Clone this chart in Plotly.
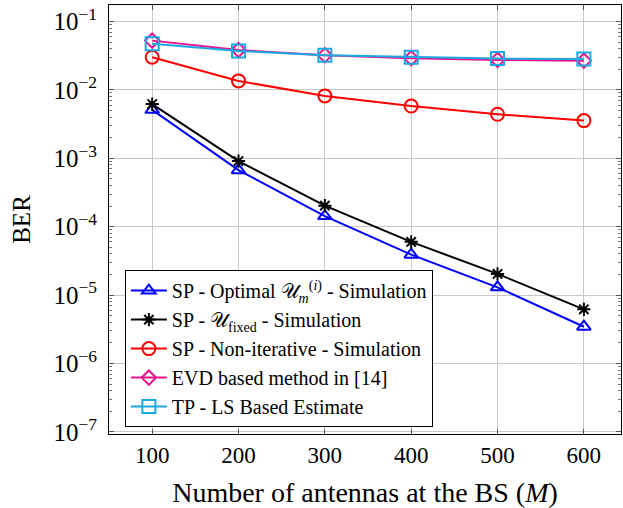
import plotly.graph_objects as go

M = [100, 200, 300, 400, 500, 600]
ber_optimal = [5.1e-3, 6.7e-4, 1.43e-4, 3.9e-5, 1.3e-5, 3.45e-6]
ber_fixed = [6.2e-3, 9.1e-4, 2.03e-4, 6.0e-5, 2.04e-5, 6.2e-6]
ber_noniter = [3.0e-2, 1.35e-2, 8.15e-3, 5.8e-3, 4.4e-3, 3.55e-3]
ber_evd = [5.24e-2, 3.83e-2, 3.2e-2, 2.9e-2, 2.74e-2, 2.67e-2]
ber_tp = [4.7e-2, 3.7e-2, 3.2e-2, 3.0e-2, 2.86e-2, 2.83e-2]

names = [
    "SP - Optimal 𝒰<sub><i>m</i></sub><sup>(<i>i</i>)</sup> - Simulation",
    "SP - 𝒰<sub>fixed</sub> - Simulation",
    "SP - Non-iterative - Simulation",
    "EVD based method in [14]",
    "TP - LS Based Estimate",
]
series = [ber_optimal, ber_fixed, ber_noniter, ber_evd, ber_tp]
colors = ["#0000FF", "#000000", "#FF0000", "#E8138C", "#1CA8E3"]
symbols = ["triangle-up-open", "asterisk-open", "circle-open", "diamond-open", "square-open"]
sizes = [12, 11, 13, 11, 13]

FONT = "Liberation Serif"

fig = go.Figure()
for i, (nm, ys, c, s, sz) in enumerate(zip(names, series, colors, symbols, sizes)):
    fig.add_trace(go.Scatter(
        x=M, y=ys, mode="lines+markers", name=nm,
        legendgroup=f"g{i}",
        line=dict(color=c, width=2),
        marker=dict(symbol=s, size=sz, color=c, line=dict(color=c, width=2)),
    ))

decades = [10.0 ** k for k in range(-7, 0)]
decade_labels = [f"10<sup>−{abs(k)}</sup>" for k in range(-7, 0)]
minor_vals = [m * 10.0 ** k for k in range(-7, 0) for m in range(2, 10)]

fig.update_layout(
    width=623, height=508,
    margin=dict(l=109, r=2, t=5, b=74),
    paper_bgcolor="white", plot_bgcolor="white",
    font=dict(family=FONT, color="black"),
    showlegend=True,
    legend=dict(
        x=0.031, y=0.382, xanchor="left", yanchor="top",
        bordercolor="black", borderwidth=1, bgcolor="white",
        font=dict(family=FONT, size=20, color="black"),
        traceorder="grouped", tracegroupgap=0, itemwidth=36,
    ),
)
fig.update_xaxes(
    range=[50, 643], automargin=False,
    tickvals=M, ticktext=[str(v) for v in M],
    tickfont=dict(family=FONT, size=23),
    title=dict(text="Number of antennas at the BS (<i>M</i>)", font=dict(family=FONT, size=28)),
    showgrid=True, gridcolor="#C8C8C8", gridwidth=1,
    showline=True, linecolor="black", linewidth=1, mirror="ticks",
    ticks="inside", ticklen=5, tickcolor="#555555", ticklabelstandoff=0,
    zeroline=False,
)
fig.update_yaxes(
    type="log", range=[-7.03, -0.76], automargin=False,
    tickvals=decades, ticktext=decade_labels,
    tickfont=dict(family=FONT, size=25),
    title=dict(text="BER", font=dict(family=FONT, size=25)),
    showgrid=True, gridcolor="#C8C8C8", gridwidth=1,
    showline=True, linecolor="black", linewidth=1, mirror="ticks",
    ticks="inside", ticklen=5, tickcolor="#555555", ticklabelstandoff=6,
    minor=dict(tickvals=minor_vals, ticks="inside", ticklen=3, tickcolor="#777777", showgrid=False),
    zeroline=False,
)

fig.write_html("out.html", config={"displayModeBar": False},
               post_script="document.body.style.margin='0px';")
